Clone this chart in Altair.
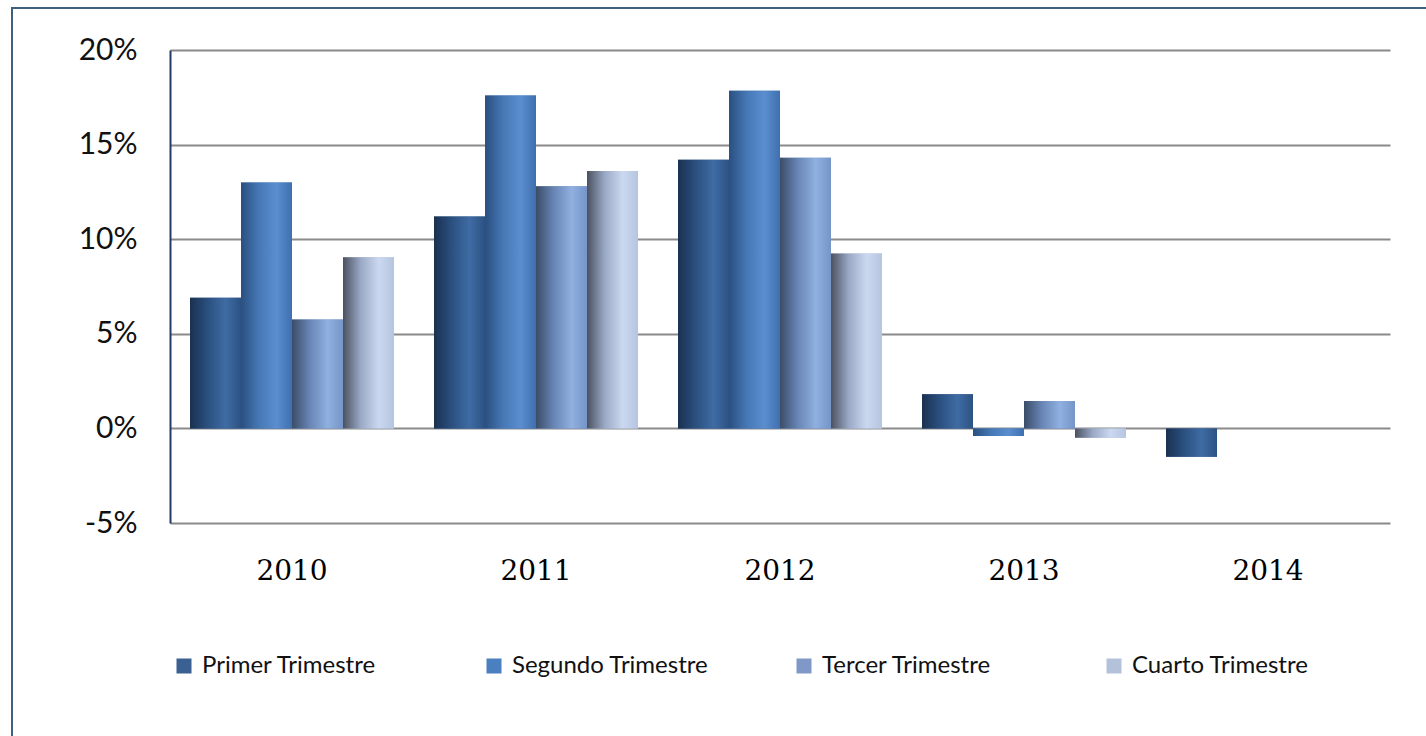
import altair as alt
import pandas as pd

# Quarterly growth rates (%) by year
years = ["2010", "2011", "2012", "2013", "2014"]
series = ["Primer Trimestre", "Segundo Trimestre", "Tercer Trimestre", "Cuarto Trimestre"]
primer = [6.9, 11.2, 14.2, 1.8, -1.5]
segundo = [13.0, 17.6, 17.85, -0.4, None]
tercer = [5.75, 12.8, 14.3, 1.45, None]
cuarto = [9.05, 13.6, 9.25, -0.5, None]

swatches = ["#3a6192", "#4a7fc0", "#7f98c8", "#b3c2da"]
shading = [
    ["#1a3050", "#2b5080", "#3f6ca4", "#2c5282"],
    ["#2a4f80", "#4678b5", "#5a8ed0", "#3f6fae"],
    ["#3b4d68", "#6885b5", "#8fb0e0", "#7595c8"],
    ["#4b5160", "#9aa9c6", "#cbd8f0", "#b5c4e0"],
]
stop_offsets = [0.0, 0.35, 0.7, 1.0]

rows = []
for name, vals in zip(series, [primer, segundo, tercer, cuarto]):
    for yr, v in zip(years, vals):
        if v is not None:
            rows.append({"year": yr, "series": name, "value": v})
df = pd.DataFrame(rows)

x_enc = alt.X(
    "year:N",
    sort=years,
    scale=alt.Scale(paddingInner=0.164, paddingOuter=0.082),
    axis=alt.Axis(
        title=None, labelAngle=0, domain=False, ticks=False, grid=False,
        labelFont="DejaVu Serif", labelFontSize=28, labelColor="#000000",
        labelPadding=34,
    ),
)
y_enc = alt.Y(
    "value:Q",
    scale=alt.Scale(domain=[-5, 20], nice=False, zero=False),
    axis=alt.Axis(
        title=None, values=[-5, 0, 5, 10, 15, 20], labelExpr="datum.value + '%'",
        ticks=False, grid=True, gridColor="#8a8a8a", gridWidth=2,
        domain=True, domainColor="#1f3d66", domainWidth=2,
        labelFont="Lato", labelFontSize=30, labelColor="#111111", labelPadding=33,
    ),
)
xoff = alt.XOffset("series:N", sort=series, scale=alt.Scale(domain=series, paddingInner=0, paddingOuter=0))

base = alt.Chart(df).mark_bar().encode(
    x=x_enc,
    y=y_enc,
    y2=alt.datum(0),
    xOffset=xoff,
    color=alt.Color(
        "series:N",
        sort=series,
        scale=alt.Scale(domain=series, range=swatches),
        legend=alt.Legend(
            title=None, orient="none", legendX=2, legendY=604,
            direction="horizontal", columns=4, gridAlign="all",
            symbolType="square", symbolSize=225, symbolStrokeWidth=0,
            labelFont="Lato", labelFontSize=24, labelColor="#111111",
            labelOffset=6, columnPadding=83, labelLimit=400,
        ),
    ),
)

layers = [base]
for name, cols in zip(series, shading):
    grad = alt.Gradient(
        gradient="linear",
        stops=[alt.GradientStop(offset=o, color=c) for o, c in zip(stop_offsets, cols)],
        x1=0, x2=1, y1=0, y2=0,
    )
    layers.append(
        alt.Chart(df)
        .transform_filter(alt.datum.series == name)
        .mark_bar(fill=grad)
        .encode(x=x_enc, y=y_enc, y2=alt.datum(0), xOffset=xoff)
    )

# Outer frame around the whole figure
frame = alt.Chart(pd.DataFrame({"k": [0]})).mark_rect(
    fill=None, stroke="#3f5f7f", strokeWidth=2, clip=False
).encode(
    x=alt.value(-158), x2=alt.value(1270),
    y=alt.value(-42), y2=alt.value(700),
)

chart = (
    alt.layer(*layers, frame)
    .properties(
        width=1220, height=473,
        autosize=alt.AutoSizeParams(type="none"),
        padding={"left": 170, "top": 50, "right": 36, "bottom": 213},
        background="white",
    )
    .configure_view(stroke=None)
)

chart.save("out.html", embed_options={"renderer": "svg", "actions": False})
